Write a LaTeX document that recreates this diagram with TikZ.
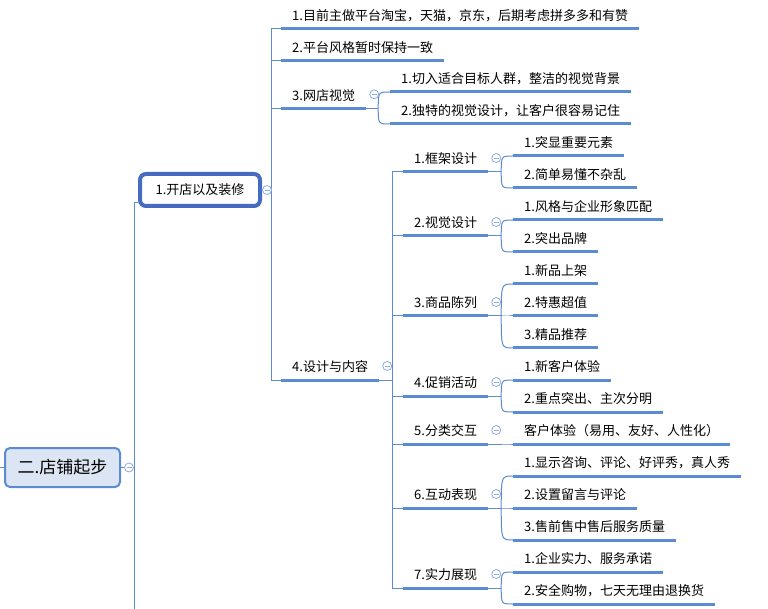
\documentclass[tikz,border=0pt]{standalone}
\usepackage{fontspec}
\newfontfamily\cjk{Noto Sans CJK SC}
\definecolor{lineblue}{HTML}{5B8BD3}
\definecolor{boxblue}{HTML}{456CC1}
\definecolor{rootfill}{HTML}{DCE5F3}
\definecolor{knobblue}{HTML}{8DADE0}
\tikzset{
  conn/.style={lineblue, line width=1pt},
  under/.style={lineblue, line width=3pt},
  topic/.style={anchor=south west, inner xsep=11pt, inner ysep=5pt,
    text height=10pt, text depth=3pt, font=\cjk\fontsize{13}{15}\selectfont},
  knob/.style={circle, draw=knobblue, fill=white, line width=0.8pt,
    minimum size=9pt, inner sep=0pt,
    path picture={\draw[knobblue, line width=0.8pt]
      ([xshift=-2.5pt]path picture bounding box.center) --
      ([xshift=2.5pt]path picture bounding box.center);}},
}
\begin{document}
\begin{tikzpicture}[x=1pt, y=-1pt]
  \useasboundingbox (0,0) rectangle (768,609);

  % root and first topic
  \node[draw=lineblue, line width=2pt, fill=rootfill, rounded corners=5pt,
    minimum width=115pt, minimum height=39pt,
    font=\cjk\fontsize{17}{20}\selectfont] (root) at (62.5,467.5) {二.店铺起步};
  \node[draw=boxblue, line width=4pt, fill=white, rounded corners=6pt,
    minimum width=120pt, minimum height=32pt, inner sep=0pt,
    font=\cjk\fontsize{13}{15}\selectfont] (kaidian) at (200,190) {1.开店以及装修};

  % topics under 1.开店以及装修
  \foreach \n/\y/\t in {t1/28.7/1.目前主做平台淘宝，天猫，京东，后期考虑拼多多和有赞,
      t2/60.7/2.平台风格暂时保持一致, t3/108.3/3.网店视觉, t4/380/4.设计与内容} {
    \node[topic] (\n) at (281,\y) {\t};
    \draw[under] (\n.south west) -- (\n.south east);
  }

  \foreach \n/\y/\t in {v1/92/1.切入适合目标人群，整洁的视觉背景,
      v2/124/2.独特的视觉设计，让客户很容易记住} {
    \node[topic] (\n) at (390,\y) {\t};
    \draw[under] (\n.south west) -- (\n.south east);
  }

  % topics under 4.设计与内容
  \foreach \n/\y/\t in {d1/172/1.框架设计, d2/236/2.视觉设计, d3/316/3.商品陈列,
      d4/396/4.促销活动, d5/444/5.分类交互, d6/508/6.互动表现, d7/588/7.实力展现} {
    \node[topic] (\n) at (403,\y) {\t};
    \draw[under] (\n.south west) -- (\n.south east);
  }

  \foreach \n/\y/\t in {d1a/156/1.突显重要元素, d1b/188/2.简单易懂不杂乱,
      d2a/220/1.风格与企业形象匹配, d2b/252/2.突出品牌,
      d3a/284/1.新品上架, d3b/316/2.特惠超值, d3c/348/3.精品推荐,
      d4a/380/1.新客户体验, d4b/412/2.重点突出、主次分明,
      d5a/444/客户体验（易用、友好、人性化）,
      d6a/476/1.显示咨询、评论、好评秀，真人秀, d6b/508/2.设置留言与评论,
      d6c/540/3.售前售中售后服务质量,
      d7a/572/1.企业实力、服务承诺, d7b/604/2.安全购物，七天无理由退换货} {
    \node[topic] (\n) at (513,\y) {\t};
    \draw[under] (\n.south west) -- (\n.south east);
  }

  % connectors
  \coordinate (rin) at (0,467.5);
  \coordinate (rend) at (134,609);
  \draw[conn] (rin) -- (root.west);
  \draw[conn] (root.east) -- (root.east -| rend);
  \draw[conn] (rend) |- ([yshift=5pt]kaidian.south west);

  \coordinate (ja) at ([xshift=9.5pt]kaidian.east);
  \foreach \c in {t1,t2,t3,t4} \draw[conn] (ja) |- (\c.south west);

  \draw[conn] (t3.south east) -- ++(12,0) coordinate (jv);
  \foreach \c in {v1,v2}
    \draw[conn] (jv) .. controls (jv |- \c.south west) .. (\c.south west);

  \draw[conn] (t4.south east) -- ++(13,0) coordinate (jd);
  \foreach \c in {d1,d2,d3,d4,d5,d6,d7} \draw[conn] (jd) |- (\c.south west);

  \foreach \p/\kids in {d1/{d1a,d1b}, d2/{d2a,d2b}, d3/{d3a,d3b,d3c},
      d4/{d4a,d4b}, d5/{d5a}, d6/{d6a,d6b,d6c}, d7/{d7a,d7b}} {
    \draw[conn] (\p.south east) -- ++(13,0) coordinate (j\p);
    \foreach \k in \kids
      \draw[conn] (j\p) .. controls (j\p |- \k.south west) .. (\k.south west);
  }

  % collapse knobs
  \node[knob] (kroot) at ([xshift=8pt]root.east) {};
  \node[knob] (kkai) at ([xshift=5pt]kaidian.east) {};
  \foreach \c in {t3,t4,d1,d2,d3,d4,d5,d6,d7}
    \node[knob] (k\c) at ([xshift=8pt,yshift=14pt]\c.south east) {};
\end{tikzpicture}
\end{document}
